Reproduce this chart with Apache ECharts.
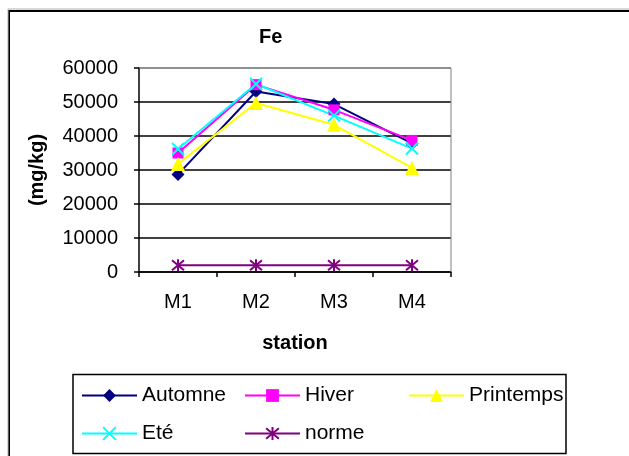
<!DOCTYPE html>
<html>
<head>
<meta charset="utf-8">
<script src="https://cdn.jsdelivr.net/npm/echarts@6/dist/echarts.min.js"></script>
<style>
  html, body { margin: 0; padding: 0; background: #fff; }
  #chart { width: 629px; height: 456px; }
</style>
</head>
<body>
<div id="chart"></div>
<script>
// Fe concentration per station and season
const stations = ['M1', 'M2', 'M3', 'M4'];
const yTicks = [0, 10000, 20000, 30000, 40000, 50000, 60000];
const automne = [28700, 53100, 49400, 37800];
const hiver = [35000, 55100, 47700, 38700];
const printemps = [31800, 49700, 43300, 30600];
const ete = [36200, 55300, 46000, 36300];
const norme = [2000, 2000, 2000, 2000];

const FONT = '"Liberation Sans", Arial, sans-serif';
const FS = 20;
const crossPath = 'path://M0,0 L10,10 M10,0 L0,10';
const starPath = 'path://M0,0 L10,10 M10,0 L0,10 M5,-1 L5,11';

function lineSeries(name, data, color, symbol, size, stroked) {
  return {
    name: name,
    type: 'line',
    data: data,
    symbol: symbol,
    symbolSize: size,
    lineStyle: { color: color, width: 2 },
    itemStyle: stroked
      ? { color: 'rgba(0,0,0,0)', borderColor: color, borderWidth: 2 }
      : { color: color, borderWidth: 0 },
    emphasis: { disabled: true },
    animation: false
  };
}

function legendAt(name, left, top) {
  return {
    data: [name],
    left: left,
    top: top,
    padding: 0,
    itemWidth: 55,
    itemHeight: 16,
    itemGap: 0,
    textStyle: { fontFamily: FONT, fontSize: 21, color: '#000' },
    selectedMode: false
  };
}

const chart = echarts.init(document.getElementById('chart'), null, { renderer: 'canvas' });
chart.setOption({
  backgroundColor: '#fff',
  animation: false,
  title: {
    text: 'Fe',
    left: 259,
    top: 27,
    padding: 0,
    textStyle: { fontFamily: FONT, fontSize: FS, fontWeight: 'bold', color: '#000' }
  },
  graphic: [
    { type: 'rect', shape: { x: 9, y: 11, width: 700, height: 500 },
      style: { fill: 'none', stroke: '#000', lineWidth: 2 }, silent: true },
    { type: 'polyline', shape: { points: [[8, 470], [8, 9], [640, 9]] },
      style: { fill: 'none', stroke: '#b0b0b0', lineWidth: 1 }, silent: true },
    { type: 'rect', shape: { x: 73, y: 374.5, width: 493, height: 79 },
      style: { fill: 'none', stroke: '#000', lineWidth: 1.5 }, silent: true },
    { type: 'polyline', shape: { points: [[139, 68], [451, 68], [451, 272]] },
      style: { fill: 'none', stroke: '#808080', lineWidth: 1 }, silent: true, z: 1 }
  ],
  legend: [
    legendAt('Automne', 81, 385),
    legendAt('Hiver', 244, 385),
    legendAt('Printemps', 408, 385),
    legendAt('Eté', 81, 423),
    legendAt('norme', 244, 423)
  ],
  grid: { left: 139, right: 178, top: 68, bottom: 184 },
  xAxis: {
    type: 'category',
    data: stations,
    boundaryGap: true,
    name: 'station',
    nameLocation: 'middle',
    nameGap: 61,
    nameTextStyle: { fontFamily: FONT, fontSize: FS, fontWeight: 'bold', color: '#000' },
    axisLine: { lineStyle: { color: '#000', width: 1.5 } },
    axisTick: { show: true, length: 5, lineStyle: { color: '#000', width: 1.5 } },
    axisLabel: { fontFamily: FONT, fontSize: FS, color: '#000', margin: 20 },
    splitLine: { show: false }
  },
  yAxis: {
    type: 'value',
    min: yTicks[0],
    max: yTicks[yTicks.length - 1],
    interval: yTicks[1] - yTicks[0],
    name: '(mg/kg)',
    nameLocation: 'middle',
    nameGap: 92,
    nameTextStyle: { fontFamily: FONT, fontSize: FS, fontWeight: 'bold', color: '#000' },
    axisLine: { show: true, lineStyle: { color: '#000', width: 1.5 } },
    axisTick: { show: true, length: 5, lineStyle: { color: '#000', width: 1.5 } },
    axisLabel: { fontFamily: FONT, fontSize: FS, color: '#000', margin: 21,
                 formatter: function (v) { return String(v); } },
    splitLine: {
      show: true,
      lineStyle: { color: ['#000', '#000', '#000', '#000', '#000', '#000', '#808080'], width: 1.5 }
    }
  },
  series: [
    lineSeries('Automne', automne, '#000080', 'diamond', 13, false),
    lineSeries('Hiver', hiver, '#FF00FF', 'rect', 11, false),
    lineSeries('Printemps', printemps, '#FFFF00', 'triangle', 14, false),
    lineSeries('Eté', ete, '#00FFFF', crossPath, 12, true),
    lineSeries('norme', norme, '#800080', starPath, 12, true)
  ]
});
</script>
</body>
</html>
